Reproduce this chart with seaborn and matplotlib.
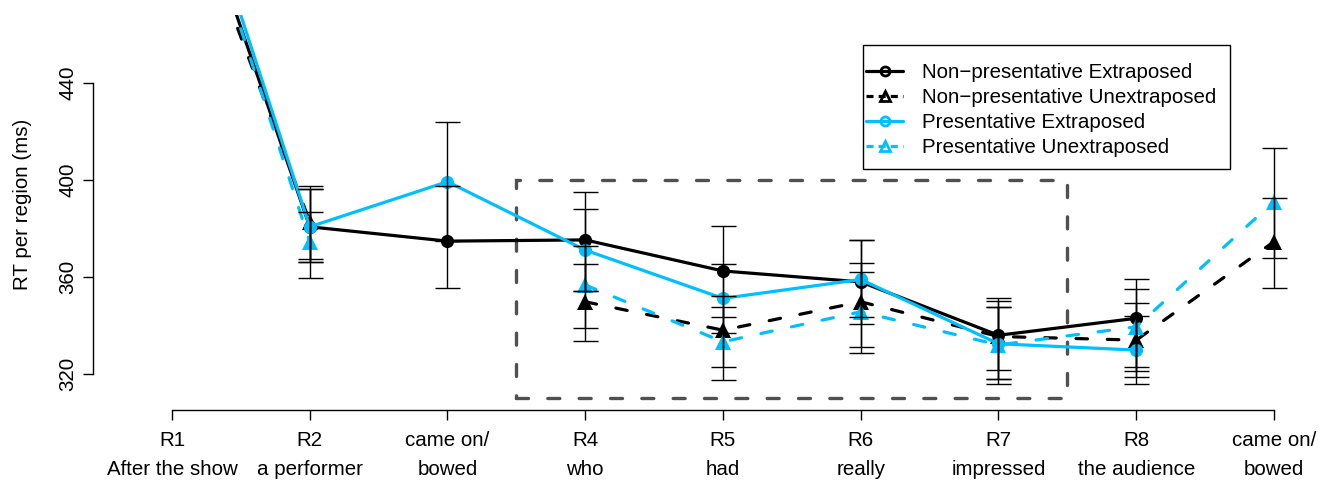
"""
Reading times per region for the extraposition experiment
"""

import numpy as np
import pandas as pd
import matplotlib
matplotlib.use('Agg')
import matplotlib.pyplot as plt
from matplotlib.lines import Line2D
from matplotlib.patches import Rectangle
import seaborn as sns

# Regions (x axis)
positions = [1, 2, 3, 4, 5, 6, 7, 8, 9]
region_labels = ["R1\nAfter the show", "R2\na performer", "came on/\nbowed", "R4\nwho",
                 "R5\nhad", "R6\nreally", "R7\nimpressed", "R8\nthe audience", "came on/\nbowed"]

conditions = ["Non\u2212presentative Extraposed", "Non\u2212presentative Unextraposed",
              "Presentative Extraposed", "Presentative Unextraposed"]

nan = np.nan

# Non-presentative Extraposed
ne_mean = [545, 380.7, 374.8, 375.3, 362.5, 358.0, 336.0, 343.0, nan]
ne_lo = [520, 366.3, 355.6, 354.3, 343.6, 340.5, 321.6, 323.0, nan]
ne_hi = [570, 396.3, 397.6, 395.2, 381.0, 375.3, 351.2, 359.0, nan]

# Non-presentative Unextraposed
nu_mean = [535, 382.8, nan, 349.8, 338.1, 349.8, 335.5, 334.0, 374.6]
nu_lo = [510, 367.4, nan, 333.6, 323.0, 331.3, 317.8, 318.6, 355.6]
nu_hi = [560, 397.5, nan, 365.4, 352.2, 365.6, 350.2, 349.4, 392.7]

# Presentative Extraposed
pe_mean = [555, 380.7, 399.3, 371.1, 351.2, 359.0, 332.5, 329.9, nan]
pe_lo = [530, 366.3, 374.8, 354.3, 336.8, 343.4, 315.9, 315.8, nan]
pe_hi = [580, 396.3, 423.8, 387.9, 365.4, 375.3, 347.5, 343.9, nan]

# Presentative Unextraposed
pu_mean = [550, 374.5, nan, 356.7, 333.3, 345.7, 332.0, 339.5, 391.1]
pu_lo = [525, 359.7, nan, 338.8, 317.5, 328.8, 317.8, 321.3, 368.0]
pu_hi = [575, 386.7, nan, 372.8, 347.8, 362.2, 347.5, 355.0, 413.1]

y_ticks = [320, 360, 400, 440]

BLUE = "#00BFFF"
colors = {conditions[0]: "black", conditions[1]: "black",
          conditions[2]: BLUE, conditions[3]: BLUE}
markers = {conditions[0]: "o", conditions[1]: "^", conditions[2]: "o", conditions[3]: "^"}
dashes = {conditions[0]: "", conditions[1]: (3.6, 6.2), conditions[2]: "", conditions[3]: (3.6, 6.2)}

series = {
    conditions[0]: (ne_mean, ne_lo, ne_hi),
    conditions[1]: (nu_mean, nu_lo, nu_hi),
    conditions[2]: (pe_mean, pe_lo, pe_hi),
    conditions[3]: (pu_mean, pu_lo, pu_hi),
}

# Long-form table; a missing region splits a line into separate units
rows = []
for cond, (means, _, _) in series.items():
    seg = 0
    for pos, m in zip(positions, means):
        if np.isnan(m):
            seg += 1
            continue
        rows.append({"pos": pos, "rt": m, "cond": cond, "seg": f"{cond}-{seg}"})
df = pd.DataFrame(rows)

sns.set_style("ticks")
plt.rcParams['font.family'] = ['Liberation Sans', 'DejaVu Sans']
plt.rcParams.update({"text.color": "black", "axes.labelcolor": "black",
                     "xtick.color": "black", "ytick.color": "black"})

W, H = 1323, 480
fig = plt.figure(figsize=(W / 100, H / 100), dpi=100)
ax = fig.add_axes([93 / W, 70 / H, (1320 - 93) / W, 395 / H])

sns.lineplot(data=df, x="pos", y="rt", hue="cond", style="cond", units="seg",
             estimator=None, hue_order=conditions, style_order=conditions,
             palette=colors, markers=markers, dashes=dashes, lw=2.3,
             markeredgewidth=0, dash_capstyle="round", solid_capstyle="round",
             legend=False, ax=ax, zorder=2)

for line in ax.lines:
    line.set_markersize(11 if line.get_marker() == "^" else 9.5)

# Error bars
for cond, (means, lo, hi) in series.items():
    m = np.array(means, dtype=float)
    err = [m - np.array(lo, dtype=float), np.array(hi, dtype=float) - m]
    ax.errorbar(positions, m, yerr=err, fmt="none", ecolor="black",
                elinewidth=1.0, capsize=9, capthick=1.0, zorder=3)

# Dashed box around the critical regions
ax.add_patch(Rectangle((3.5, 310), 4.0, 90.0, fill=False, edgecolor="#505050",
                       lw=2.4, linestyle=(0, (3.6, 5.8)), capstyle="round", zorder=1))

ax.set_xlim(0.4265, 9.334)
ax.set_ylim(305.2, 468)

ax.set_xticks(positions)
ax.set_xticklabels(region_labels, fontsize=14.8, linespacing=1.65)
ax.set_yticks(y_ticks)
ax.set_yticklabels([str(t) for t in y_ticks], fontsize=14.8, rotation=90, va="center")
ax.tick_params(axis="both", direction="out", length=7.5, width=1.0, color="black",
               labelcolor="black")
ax.tick_params(axis="x", pad=7.5)
ax.tick_params(axis="y", pad=4)

for side in ["top", "right"]:
    ax.spines[side].set_visible(False)
ax.spines["left"].set_bounds(320, 440)
ax.spines["bottom"].set_bounds(1, 9)
for side in ["left", "bottom"]:
    ax.spines[side].set_linewidth(1.0)
    ax.spines[side].set_color("black")

ax.set_xlabel("")
ax.set_ylabel("RT per region (ms)", fontsize=14.8, color="black")
ax.yaxis.set_label_coords(-0.05, 0.52)

# Legend with a plain rectangular frame
handles = []
for cond in conditions:
    ls = "-" if dashes[cond] == "" else (0, (2.2, 1.6))
    handles.append(Line2D([], [], color=colors[cond], lw=2.3, linestyle=ls,
                          marker=markers[cond], markersize=6.5, markerfacecolor="none",
                          markeredgewidth=2.0))
leg = fig.legend(handles=handles, labels=conditions, loc="upper left",
                 bbox_to_anchor=(866 / W, 1 - 63 / H), bbox_transform=fig.transFigure,
                 frameon=False, fontsize=14.8, handlelength=1.8, handletextpad=0.9,
                 labelspacing=0.29, borderpad=0, borderaxespad=0)
for txt in leg.get_texts():
    txt.set_color("black")
fig.add_artist(Rectangle((863 / W, 1 - 169 / H), (1230 - 863) / W, (169 - 45) / H,
                         transform=fig.transFigure, fill=False, edgecolor="black", lw=1.0))

fig.savefig("out.png", dpi=100)
plt.close(fig)
